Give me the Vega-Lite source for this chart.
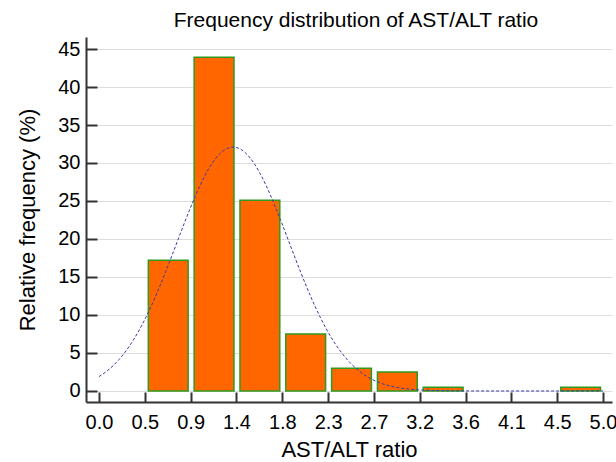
{
  "$schema": "https://vega.github.io/schema/vega-lite/v6.json",
  "autosize": "none",
  "width": 526,
  "height": 365,
  "padding": {"left": 86, "top": 37, "right": 4, "bottom": 60},
  "background": "white",
  "title": {"text": "Frequency distribution of AST/ALT ratio", "font": "Liberation Sans", "fontSize": 21, "fontWeight": "normal", "color": "#000000", "anchor": "middle", "frame": "group", "offset": 6, "dx": 7},
  "config": {"view": {"stroke": null}},
  "datasets": {
    "bins": [
      {"start": 0.454545, "end": 0.909091, "pct": 17.2},
      {"start": 0.909091, "end": 1.363636, "pct": 43.9},
      {"start": 1.363636, "end": 1.818182, "pct": 25.1},
      {"start": 1.818182, "end": 2.272727, "pct": 7.5},
      {"start": 2.272727, "end": 2.727273, "pct": 3.0},
      {"start": 2.727273, "end": 3.181818, "pct": 2.5},
      {"start": 3.181818, "end": 3.636364, "pct": 0.5},
      {"start": 4.545455, "end": 5.0, "pct": 0.5}
    ],
    "curve": [
      {"x": 0.0, "y": 1.89}, {"x": 0.1, "y": 2.85}, {"x": 0.2, "y": 4.16}, {"x": 0.3, "y": 5.88},
      {"x": 0.4, "y": 8.04}, {"x": 0.5, "y": 10.66}, {"x": 0.6, "y": 13.68}, {"x": 0.7, "y": 17.01},
      {"x": 0.8, "y": 20.48}, {"x": 0.9, "y": 23.88}, {"x": 1.0, "y": 26.97}, {"x": 1.1, "y": 29.5},
      {"x": 1.2, "y": 31.24}, {"x": 1.3, "y": 32.05}, {"x": 1.33, "y": 32.1}, {"x": 1.4, "y": 31.85},
      {"x": 1.5, "y": 30.65}, {"x": 1.6, "y": 28.57}, {"x": 1.7, "y": 25.79}, {"x": 1.8, "y": 22.54},
      {"x": 1.9, "y": 19.09}, {"x": 2.0, "y": 15.65}, {"x": 2.1, "y": 12.43}, {"x": 2.2, "y": 9.56},
      {"x": 2.3, "y": 7.12}, {"x": 2.4, "y": 5.14}, {"x": 2.5, "y": 3.59}, {"x": 2.6, "y": 2.43},
      {"x": 2.7, "y": 1.59}, {"x": 2.8, "y": 1.01}, {"x": 2.9, "y": 0.62}, {"x": 3.0, "y": 0.37},
      {"x": 3.1, "y": 0.21}, {"x": 3.2, "y": 0.12}, {"x": 3.3, "y": 0.065}, {"x": 3.4, "y": 0.034},
      {"x": 3.5, "y": 0.017}, {"x": 3.6, "y": 0.008}, {"x": 3.8, "y": 0.002}, {"x": 4.0, "y": 0.0004},
      {"x": 4.5, "y": 0.0}, {"x": 5.0, "y": 0.0}
    ]
  },
  "layer": [
    {
      "data": {"name": "bins"},
      "mark": {"type": "bar", "fill": "#FF6600", "stroke": "#2f9a1f", "strokeWidth": 1.5, "binSpacing": 6},
      "encoding": {
        "x": {
          "field": "start", "type": "quantitative", "bin": "binned",
          "scale": {"domain": [-0.129, 5.089], "nice": false, "zero": false},
          "axis": {
            "values": [0, 0.454545, 0.909091, 1.363636, 1.818182, 2.272727, 2.727273, 3.181818, 3.636364, 4.090909, 4.545455, 5.0],
            "format": ".1f", "title": "AST/ALT ratio", "grid": false,
            "domainColor": "#333333", "domainWidth": 2, "tickColor": "#333333", "tickWidth": 2, "tickSize": -10,
            "labelFont": "Liberation Sans", "labelFontSize": 20, "labelColor": "#000000", "labelPadding": 20,
            "titleFont": "Liberation Sans", "titleFontSize": 22, "titleFontWeight": "normal", "titleColor": "#000000", "titlePadding": 7
          }
        },
        "x2": {"field": "end"},
        "y": {
          "field": "pct", "type": "quantitative",
          "scale": {"domain": [-1.45, 46.58], "nice": false, "zero": false},
          "axis": {
            "values": [0, 5, 10, 15, 20, 25, 30, 35, 40, 45],
            "title": "Relative frequency (%)", "grid": true, "gridColor": "#dddddd", "gridWidth": 1,
            "domainColor": "#333333", "domainWidth": 2, "tickColor": "#333333", "tickWidth": 2, "tickSize": -11,
            "labelFont": "Liberation Sans", "labelFontSize": 20, "labelColor": "#000000", "labelPadding": 17,
            "titleFont": "Liberation Sans", "titleFontSize": 22, "titleFontWeight": "normal", "titleColor": "#000000", "titlePadding": 18
          }
        },
        "y2": {"datum": 0}
      }
    },
    {
      "data": {"name": "curve"},
      "mark": {"type": "line", "color": "#3a3aa8", "strokeWidth": 1, "strokeDash": [3, 2], "interpolate": "monotone"},
      "encoding": {
        "x": {"field": "x", "type": "quantitative"},
        "y": {"field": "y", "type": "quantitative"}
      }
    }
  ]
}
